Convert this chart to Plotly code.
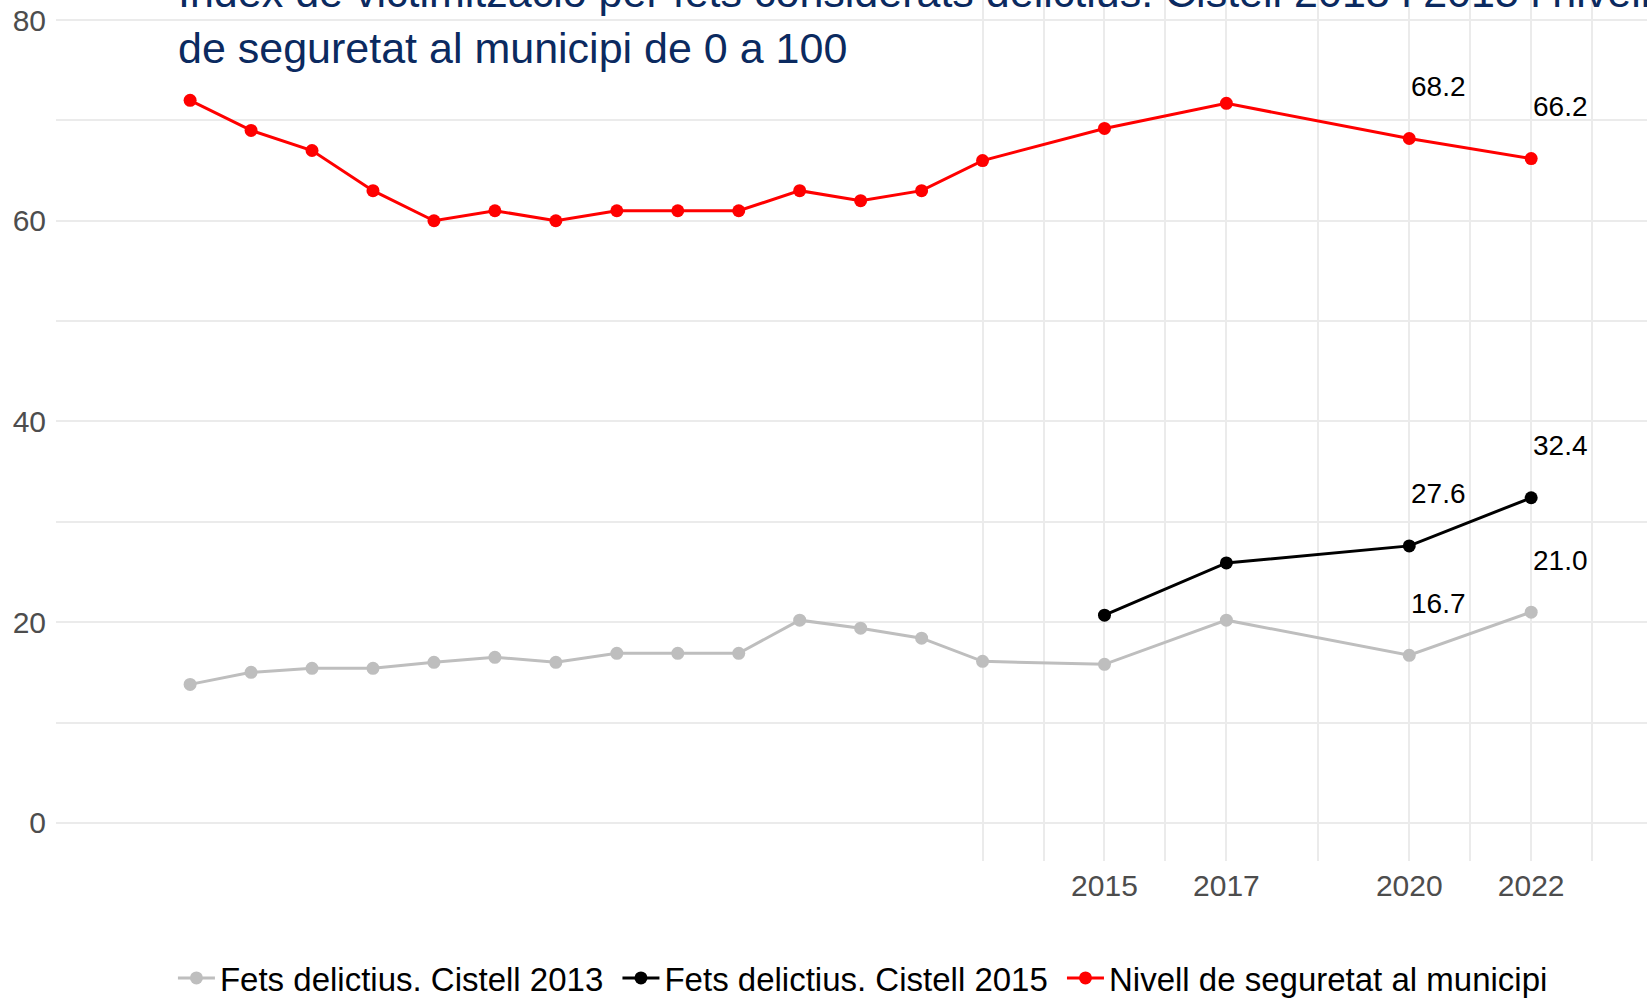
import plotly.graph_objects as go

# ---- data ----
years = [2000, 2001, 2002, 2003, 2004, 2005, 2006, 2007, 2008, 2009, 2010, 2011, 2012, 2013,
         2015, 2017, 2020, 2022]
cistell_2013 = [13.8, 15.0, 15.4, 15.4, 16.0, 16.5, 16.0, 16.9, 16.9, 16.9, 20.2, 19.4, 18.4, 16.1,
                15.8, 20.2, 16.7, 21.0]
years_2015 = [2015, 2017, 2020, 2022]
cistell_2015 = [20.7, 25.9, 27.6, 32.4]
seguretat = [72, 69, 67, 63, 60, 61, 60, 61, 61, 61, 63, 62, 63, 66,
             69.2, 71.7, 68.2, 66.2]
label_years = [2020, 2022]

series_names = ["Fets delictius. Cistell 2013", "Fets delictius. Cistell 2015",
                "Nivell de seguretat al municipi"]
series_colors = ["#BEBEBE", "#000000", "#FF0000"]

x_grid = [2013, 2014, 2015, 2016, 2017, 2018.5, 2020, 2021, 2022, 2023]
x_labels = ["", "", "2015", "", "2017", "", "2020", "", "2022", ""]
y_grid = [0, 10, 20, 30, 40, 50, 60, 70, 80]
y_labels = ["0", "", "20", "", "40", "", "60", "", "80"]

title_text = ("Índex de victimització per fets considerats delictius. Cistell 2013 i 2015 i nivell"
              "<br>de seguretat al municipi de 0 a 100")

FONT = "Liberation Sans, Arial, sans-serif"

fig = go.Figure()
series = [(years, cistell_2013), (years_2015, cistell_2015), (years, seguretat)]
for (xs, ys), name, col in zip(series, series_names, series_colors):
    fig.add_trace(go.Scatter(
        x=xs, y=ys, name=name + "\u00a0", mode="lines+markers",
        line=dict(color=col, width=3),
        marker=dict(color=col, size=13),
    ))
    for xv, yv in zip(xs, ys):
        if xv in label_years:
            fig.add_annotation(
                x=xv, y=yv, text=f"{yv:.1f}", showarrow=False,
                xanchor="left", yanchor="middle", yshift=52,
                font=dict(family=FONT, size=28, color="#000000"),
            )

fig.add_annotation(
    xref="paper", yref="paper", x=0.0755, y=1 - 74 / 861,
    xanchor="left", yanchor="bottom", align="left", showarrow=False,
    text=title_text,
    font=dict(family=FONT, size=43, color="#0B2A60"),
)

fig.update_layout(
    width=1647, height=999,
    margin=dict(l=56, r=0, t=0, b=138),
    plot_bgcolor="white", paper_bgcolor="white",
    font=dict(family=FONT),
    showlegend=True,
    legend=dict(
        orientation="h", x=0.0735, xanchor="left",
        yref="container", y=1 - 950 / 999, yanchor="top",
        font=dict(family=FONT, size=33, color="#000000"),
        bgcolor="rgba(0,0,0,0)", itemwidth=37,
    ),
    xaxis=dict(
        range=[1997.8, 2023.9], tickmode="array", tickvals=x_grid, ticktext=x_labels,
        showgrid=True, gridcolor="#EBEBEB", gridwidth=1.5, zeroline=False, showline=False,
        ticks="", ticklabelstandoff=4, automargin=False,
        tickfont=dict(family=FONT, size=30, color="#4D4D4D"),
    ),
    yaxis=dict(
        range=[-3.8, 82], tickmode="array", tickvals=y_grid, ticktext=y_labels,
        showgrid=True, gridcolor="#EBEBEB", gridwidth=1.5, zeroline=False, showline=False,
        ticks="", ticklabelstandoff=9, automargin=False,
        tickfont=dict(family=FONT, size=30, color="#4D4D4D"),
    ),
)

fig.write_html(
    "out.html",
    config={"displayModeBar": False},
    post_script="document.body.style.margin='0';document.body.style.overflow='hidden';",
)
